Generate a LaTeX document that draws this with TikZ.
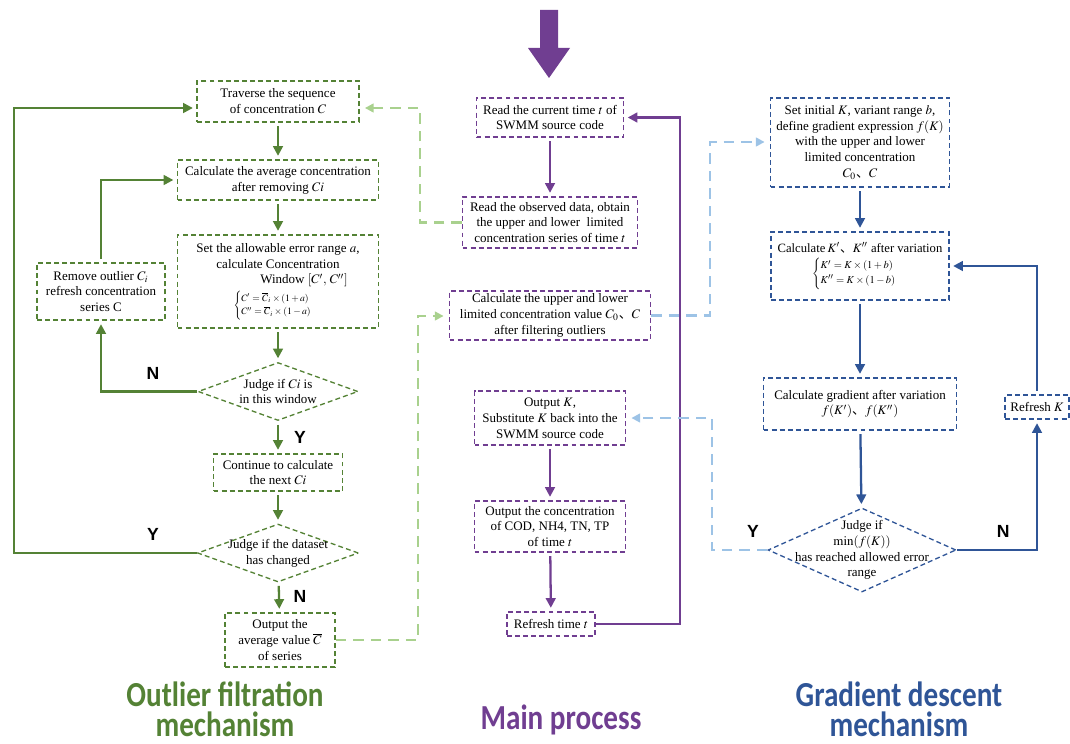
\documentclass[tikz,border=0pt]{standalone}
\usepackage{amsmath}
\usepackage{mathptmx}
\usepackage{fontspec}
\setmainfont{Liberation Serif}
\newfontfamily\cjk{Noto Sans CJK SC}
\newfontfamily\titlefont[FakeStretch=0.83]{Carlito}
\newfontfamily\ynfont{Liberation Sans}
\usetikzlibrary{arrows.meta,shapes.geometric}

\definecolor{ogreen}{RGB}{84,130,53}
\definecolor{lgreen}{RGB}{169,209,142}
\definecolor{mpurple}{RGB}{112,62,145}
\definecolor{gblue}{RGB}{47,85,151}
\definecolor{lblue}{RGB}{157,195,230}

\newcommand{\dun}{{\cjk 、}}

\tikzset{
	txt/.style={align=center, text=black, font=\fontsize{7.4}{9}\selectfont},
	box/.style={txt, draw, dash pattern=on 2.8pt off 1.8pt, line width=0.75pt, inner sep=1pt},
	dec/.style={draw, diamond, dash pattern=on 2.8pt off 1.8pt, line width=0.75pt, inner sep=0pt},
	flow/.style={line width=1.3pt, -{Triangle[length=5.5pt,width=5.5pt]}, shorten >=2pt, shorten <=2pt},
	link/.style={line width=1.2pt, dash pattern=on 6pt off 4pt, -{Triangle[length=5pt,width=5pt]}, shorten >=3pt},
	yn/.style={font=\ynfont\bfseries\fontsize{10}{12}\selectfont},
	title/.style={align=center, font=\titlefont\bfseries\fontsize{20}{17}\selectfont}
}

\begin{document}
\begin{tikzpicture}[x=0.02cm,y=-0.02cm]
	\useasboundingbox (0,0) rectangle (1070,743);
	
	\node[box, draw=ogreen, minimum width=32.4mm, minimum height=8.2mm] (trav) at (278,101.5) {Traverse the sequence\\of concentration $C$};
	\node[box, draw=ogreen, minimum width=40.2mm, minimum height=8mm] (avg) at (278,180) {Calculate the average concentration\\after removing $Ci$};
	\node[box, draw=ogreen, minimum width=40.2mm, minimum height=18.6mm] (win) at (278,281.5) {Set the allowable error range $a$,\\calculate Concentration\\\hspace*{4em}Window $[C',\,C'']$\\[1pt]{\fontsize{5.5}{6.5}\selectfont$\begin{cases}C'=\overline{C}_i\times(1+a)\\C''=\overline{C}_i\times(1-a)\end{cases}$}};
	\node[box, draw=ogreen, minimum width=25.6mm, minimum height=11.4mm] (rem) at (101,291.5) {Remove outlier $C_i$\\refresh concentration\\series C};
	\node[dec, draw=ogreen, minimum width=32mm, minimum height=11.6mm, label={[txt]center:{Judge if $Ci$ is\\in this window}}] (ci) at (278,391.5) {};
	\node[box, draw=ogreen, minimum width=25.8mm, minimum height=7.4mm] (nxt) at (278,472.5) {Continue to calculate\\the next $Ci$};
	\node[dec, draw=ogreen, minimum width=32.2mm, minimum height=11.6mm, label={[txt]center:{Judge if the dataset\\has changed}}] (chg) at (278,553) {};
	\node[box, draw=ogreen, minimum width=22mm, minimum height=10.8mm] (avgout) at (280,640) {Output the\\average value $\overline{C}$\\of series};
	
	\node[box, draw=mpurple, minimum width=29.4mm, minimum height=7.8mm] (cur) at (550,117.5) {Read the current time $t$ of\\SWMM source code};
	\node[box, draw=mpurple, minimum width=35mm, minimum height=10.2mm] (obs) at (550,222.5) {Read the observed data, obtain\\the upper and lower\ \ limited\\concentration series of time $t$};
	\node[box, draw=mpurple, minimum width=40.2mm, minimum height=9.8mm] (lim) at (550,315.5) {Calculate the upper and lower\\limited concentration value $C_0$\dun$C$\\after filtering outliers};
	\node[box, draw=mpurple, minimum width=30.2mm, minimum height=10.8mm] (outk) at (550,418) {Output $K$,\\Substitute $K$ back into the\\SWMM source code};
	\node[box, draw=mpurple, minimum width=30.2mm, minimum height=10.2mm] (conc) at (550,526.5) {Output the concentration\\of COD, NH4, TN, TP\\of time $t$};
	\node[box, draw=mpurple, minimum width=17.6mm, minimum height=4.8mm] (reft) at (551,624) {Refresh time $t$};
	
	\node[box, draw=gblue, minimum width=35.8mm, minimum height=17.8mm] (init) at (860,142.5) {Set initial $K$, variant range $b$,\\define gradient expression $f(K)$\\with the upper and lower\\limited concentration\\$C_0$\dun$C$};
	\node[box, draw=gblue, minimum width=35.6mm, minimum height=13.6mm, font=\fontsize{7.2}{9}\selectfont] (kv) at (860,266) {Calculate\,$K'$\dun$K''$ after variation\\[1.5pt]{\fontsize{6}{7}\selectfont$\begin{cases}K'=K\times(1+b)\\K''=K\times(1-b)\end{cases}$}};
	\node[box, draw=gblue, minimum width=38.6mm, minimum height=10.4mm] (grad) at (860,404) {Calculate gradient after variation\\$f(K')$\dun$f(K'')$};
	\node[dec, draw=gblue, minimum width=37.6mm, minimum height=16.8mm, label={[txt]center:{Judge if\\$\min(f(K))$\\has reached allowed error\\range}}] (err) at (862,550) {};
	\node[box, draw=gblue, minimum width=12.8mm, minimum height=4.8mm] (refk) at (1037,407) {Refresh $K$};
	
	\fill[mpurple] (540,10)--(558,10)--(558,48)--(570,48)--(549,78)--(528,48)--(540,48)--cycle;
	
	\foreach \a/\b in {trav/avg, avg/win, win/ci, ci/nxt, nxt/chg, chg/avgout}
	{\draw[flow, ogreen] (\a) -- (\b);}
	\foreach \a/\b in {cur/obs, outk/conc, conc/reft}
	{\draw[flow, mpurple] (\a) -- (\b);}
	\foreach \a/\b in {init/kv, kv/grad, grad/err}
	{\draw[flow, gblue] (\a) -- (\b);}
	
	\coordinate (gl) at (14,108);
	\coordinate (lg1) at (420,108);
	\coordinate (lg2) at (418,316);
	\coordinate (pr) at (680,117.5);
	\coordinate (lb1) at (710,142);
	\coordinate (lb2) at (712,418);
	
	\draw[flow, ogreen, shorten <=0pt] (ci.west) -| node[yn, pos=0.23, above=3pt, black]{N} (rem.south);
	\draw[flow, ogreen] (rem.north) |- (avg.west);
	\draw[flow, ogreen, shorten <=0pt] (chg.west) -| node[yn, pos=0.12, above=3pt, black]{Y} (gl) -- (gl -| trav.west);
	\node[yn] (ylab) at (300,437) {Y};
	\node[yn] (nlab) at (300,596) {N};
	
	\draw[link, lgreen] (obs.west) -| (lg1) -- (lg1 -| trav.east);
	\draw[link, lgreen] (avgout.east) -| (lg2) -- (lg2 -| lim.west);
	
	\draw[flow, mpurple, shorten <=0pt] (reft.east) -| (pr) -- (cur.east);
	
	\draw[link, lblue] (lim.east) -| (lb1) -- (lb1 -| init.west);
	\draw[link, lblue] (err.west) -| node[yn, pos=0.13, above=3pt, black]{Y} (lb2) -- (lb2 -| outk.east);
	\draw[flow, gblue, shorten <=0pt] (err.east) -| node[yn, pos=0.29, above=3pt, black]{N} (refk.south);
	\draw[flow, gblue] (refk.north) |- (kv.east);
	
	\node[title, ogreen] (t1) at (225,709) {Outlier filtration\\mechanism};
	\node[title, mpurple] (t2) at (561,720) {Main process};
	\node[title, gblue] (t3) at (899,709) {Gradient descent\\mechanism};
	
\end{tikzpicture}
\end{document}
